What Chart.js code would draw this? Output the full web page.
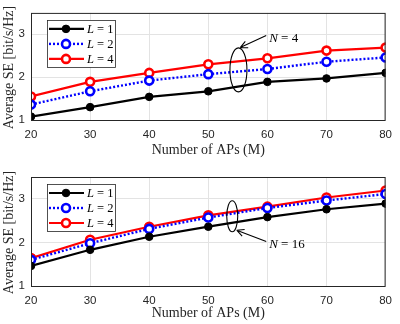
<!DOCTYPE html>
<html>
<head>
<meta charset="utf-8">
<script src="https://cdn.jsdelivr.net/npm/chart.js@4.4.0/dist/chart.umd.min.js"></script>
<style>
  html, body { margin: 0; padding: 0; background: #fff; }
  #wrap { position: relative; width: 400px; height: 324px; }
  .pane { position: absolute; left: 0; width: 400px; height: 162px; }
</style>
</head>
<body>
<div id="wrap">
  <div class="pane" style="top:0"><canvas id="chartN4"></canvas></div>
  <div class="pane" style="top:162px"><canvas id="chartN16"></canvas></div>
</div>
<script>
// ===== Data =====
const apCounts = [20, 30, 40, 50, 60, 70, 80];
const xTicks = [20, 30, 40, 50, 60, 70, 80];
const yTicks = [1, 2, 3];
const seriesNames = ['1', '2', '4'];

// N = 4
const seN4L1 = [1.08, 1.30, 1.54, 1.67, 1.89, 1.97, 2.10];
const seN4L2 = [1.36, 1.67, 1.92, 2.07, 2.19, 2.36, 2.46];
const seN4L4 = [1.55, 1.89, 2.10, 2.30, 2.44, 2.62, 2.69];

// N = 16
const seN16L1 = [1.46, 1.83, 2.13, 2.36, 2.58, 2.76, 2.89];
const seN16L2 = [1.60, 1.98, 2.31, 2.57, 2.79, 2.96, 3.11];
const seN16L4 = [1.64, 2.06, 2.36, 2.62, 2.82, 3.03, 3.19];

const TXT = '#262626';
const SERIF = '"Liberation Serif", "DejaVu Serif", serif';
const SANS = '"Liberation Sans", Arial, sans-serif';

function pts(vals){ return apCounts.map((x, i) => ({x: x, y: vals[i]})); }

function makeSets(l1, l2, l4){
  return [
    {label: seriesNames[0], data: pts(l1), borderColor: '#000', backgroundColor: '#000',
     borderWidth: 2.2, pointRadius: 3.8, pointBorderWidth: 1, pointBackgroundColor: '#000', pointBorderColor: '#000'},
    {label: seriesNames[1], data: pts(l2), borderColor: '#0000ff', backgroundColor: '#0000ff',
     borderWidth: 2.4, borderDash: [2, 2], pointRadius: 4, pointBorderWidth: 2.6,
     pointBackgroundColor: '#fff', pointBorderColor: '#0000ff'},
    {label: seriesNames[2], data: pts(l4), borderColor: '#ff0000', backgroundColor: '#ff0000',
     borderWidth: 2.2, pointRadius: 4, pointBorderWidth: 2.6,
     pointBackgroundColor: '#fff', pointBorderColor: '#ff0000'}
  ];
}

// ===== Frame, titles, legend and annotation =====
const decoPlugin = {
  id: 'deco',
  afterDraw(chart, args, opts){
    const ctx = chart.ctx;
    const a = chart.chartArea;
    const xs = chart.scales.x, ys = chart.scales.y;
    ctx.save();
    // box
    ctx.strokeStyle = TXT;
    ctx.lineWidth = 1;
    ctx.strokeRect(a.left + 0.5, a.top + 0.5, a.right - a.left - 1, a.bottom - a.top);

    // axis titles
    ctx.fillStyle = TXT;
    ctx.font = '14px ' + SERIF;
    ctx.textAlign = 'center';
    ctx.textBaseline = 'middle';
    ctx.fillText('Number of APs (M)', (a.left + a.right) / 2, opts.xTitleY);
    ctx.save();
    ctx.translate(9, (a.top + a.bottom) / 2 + 1);
    ctx.rotate(-Math.PI / 2);
    ctx.fillText('Average SE [bit/s/Hz]', 0, 0);
    ctx.restore();

    // legend
    const lx = a.left + 16, ly = a.top + 7, lw = 68, lh = 47;
    ctx.fillStyle = '#fff';
    ctx.fillRect(lx, ly, lw, lh);
    ctx.strokeStyle = TXT;
    ctx.lineWidth = 0.8;
    ctx.strokeRect(lx + 0.5, ly + 0.5, lw, lh);
    chart.data.datasets.forEach((ds, i) => {
      const ry = ly + 9 + i * 15;
      ctx.save();
      ctx.strokeStyle = ds.borderColor;
      ctx.lineWidth = ds.borderWidth;
      ctx.setLineDash(ds.borderDash || []);
      ctx.beginPath();
      ctx.moveTo(lx + 2, ry);
      ctx.lineTo(lx + 37, ry);
      ctx.stroke();
      ctx.setLineDash([]);
      ctx.beginPath();
      ctx.arc(lx + 19, ry, ds.pointRadius, 0, Math.PI * 2);
      ctx.fillStyle = ds.pointBackgroundColor;
      ctx.fill();
      ctx.lineWidth = ds.pointBorderWidth;
      ctx.strokeStyle = ds.pointBorderColor;
      ctx.stroke();
      ctx.restore();
      ctx.fillStyle = '#000';
      ctx.textAlign = 'left';
      ctx.font = 'italic 12.5px ' + SERIF;
      ctx.fillText('L', lx + 40, ry + 1);
      const w = ctx.measureText('L').width;
      ctx.font = '12.5px ' + SERIF;
      ctx.fillText(' = ' + ds.label, lx + 40 + w, ry + 1);
    });

    // ellipse + arrow annotation
    const an = opts.note;
    const ex = xs.getPixelForValue(an.ex), ey = ys.getPixelForValue(an.ey);
    ctx.strokeStyle = '#000';
    ctx.lineWidth = 1.1;
    ctx.beginPath();
    ctx.ellipse(ex, ey, an.rx, an.ry, 0, 0, Math.PI * 2);
    ctx.stroke();
    const tx = xs.getPixelForValue(an.tailX), ty = ys.getPixelForValue(an.tailY);
    const hx = xs.getPixelForValue(an.headX), hy = ys.getPixelForValue(an.headY);
    ctx.beginPath();
    ctx.moveTo(tx, ty);
    ctx.lineTo(hx, hy);
    const ang = Math.atan2(hy - ty, hx - tx);
    [0.45, -0.45].forEach(d => {
      ctx.moveTo(hx, hy);
      ctx.lineTo(hx - 8 * Math.cos(ang + d), hy - 8 * Math.sin(ang + d));
    });
    ctx.stroke();
    const px = xs.getPixelForValue(an.textX), py = ys.getPixelForValue(an.textY);
    ctx.fillStyle = '#000';
    ctx.textAlign = 'left';
    ctx.font = 'italic 13px ' + SERIF;
    ctx.fillText('N', px, py);
    const nw = ctx.measureText('N').width;
    ctx.font = '13px ' + SERIF;
    ctx.fillText(' = ' + an.text, px + nw, py);
    ctx.restore();
  }
};

function makeChart(id, sets, padTop, xHeight, deco){
  return new Chart(document.getElementById(id), {
    type: 'line',
    data: {datasets: sets},
    plugins: [decoPlugin],
    options: {
      responsive: true,
      maintainAspectRatio: false,
      animation: false,
      layout: {padding: {top: padTop, right: 7, left: 0, bottom: 0}},
      plugins: {legend: {display: false}, tooltip: {enabled: false}, deco: deco},
      scales: {
        x: {
          type: 'linear', min: 20, max: 80,
          afterFit: s => { s.height = xHeight; },
          afterBuildTicks: s => { s.ticks = xTicks.map(v => ({value: v})); },
          grid: {color: '#e3e3e3', tickLength: 0, drawTicks: false},
          border: {display: false},
          ticks: {color: TXT, font: {family: SANS, size: 11.5}, padding: 8, maxRotation: 0}
        },
        y: {
          min: 1, max: 3.5,
          afterFit: s => { s.width = 31; },
          afterBuildTicks: s => { s.ticks = yTicks.map(v => ({value: v})); },
          grid: {color: '#e3e3e3', tickLength: 0, drawTicks: false},
          border: {display: false},
          ticks: {color: TXT, font: {family: SANS, size: 11.5}, padding: 6}
        }
      }
    }
  });
}

makeChart('chartN4', makeSets(seN4L1, seN4L2, seN4L4), 10, 42, {
  xTitleY: 150,
  note: {ex: 55.1, ey: 2.17, rx: 8.5, ry: 22, tailX: 59.8, tailY: 2.97, headX: 55.4, headY: 2.69,
         textX: 60.3, textY: 2.91, text: '4'}
});
makeChart('chartN16', makeSets(seN16L1, seN16L2, seN16L4), 15, 38, {
  xTitleY: 151,
  note: {ex: 54.05, ey: 2.6, rx: 5.5, ry: 15.5, tailX: 59.8, tailY: 2.02, headX: 54.8, headY: 2.28,
         textX: 60.3, textY: 1.94, text: '16'}
});
</script>
</body>
</html>
